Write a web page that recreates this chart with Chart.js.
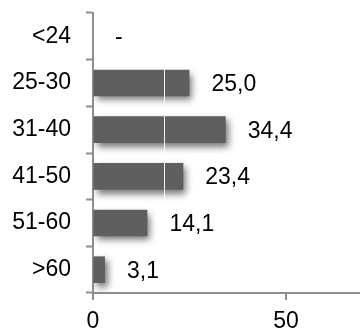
<!DOCTYPE html>
<html>
<head>
<meta charset="utf-8">
<script src="https://cdn.jsdelivr.net/npm/chart.js@4/dist/chart.umd.min.js"></script>
<style>
  html, body { margin: 0; padding: 0; background: #fff; overflow: hidden; }
  #wrap { width: 360px; height: 331px; position: relative; }
</style>
</head>
<body>
<div id="wrap"><canvas id="chart"></canvas></div>
<script>
// Age groups and share per group (%); null = no respondents
const categories = ['<24', '25-30', '31-40', '41-50', '51-60', '>60'];
const shares = [null, 25.0, 34.4, 23.4, 14.1, 3.1];
const xTicks = [0, 50];
const xMax = 69.2;
const guideValue = 18.3;

const FONT = '"Liberation Sans", Arial, Helvetica, sans-serif';
const AXIS = '#8e8e8e';
const TICK_LEN = 7;

function fmt(v) {
  return v === null ? '-' : v.toFixed(1).replace('.', ',');
}

// Soft drop shadow under the bars
const barShadow = {
  id: 'barShadow',
  beforeDatasetsDraw(chart) {
    const ctx = chart.ctx;
    ctx.save();
    ctx.shadowColor = 'rgba(0,0,0,0.55)';
    ctx.shadowBlur = 7;
    ctx.shadowOffsetX = 3;
    ctx.shadowOffsetY = 4;
  },
  afterDatasetsDraw(chart) {
    chart.ctx.restore();
  }
};

// Thin white guide line across the plot, then the value labels
const overlay = {
  id: 'overlay',
  afterDatasetsDraw(chart) {
    const ctx = chart.ctx;
    const x = chart.scales.x;
    const area = chart.chartArea;
    const gx = Math.round(x.getPixelForValue(guideValue)) + 0.5;
    ctx.save();
    ctx.strokeStyle = 'rgba(255,255,255,0.9)';
    ctx.lineWidth = 1;
    ctx.beginPath();
    ctx.moveTo(gx, area.top);
    ctx.lineTo(gx, area.bottom - 1);
    ctx.stroke();

    ctx.fillStyle = '#000';
    ctx.font = '23px ' + FONT;
    ctx.textAlign = 'left';
    ctx.textBaseline = 'middle';
    const meta = chart.getDatasetMeta(0);
    meta.data.forEach((bar, i) => {
      const v = shares[i];
      const end = x.getPixelForValue(v === null ? 0 : v);
      ctx.fillText(fmt(v), end + 22, bar.y + 1.5);
    });
    ctx.restore();
  }
};

// Downward tick marks on the value axis, only at the labelled values
const xTickMarks = {
  id: 'xTickMarks',
  afterDraw(chart) {
    const ctx = chart.ctx;
    const x = chart.scales.x;
    const y0 = chart.chartArea.bottom;
    ctx.save();
    ctx.strokeStyle = AXIS;
    ctx.lineWidth = 2;
    xTicks.forEach(v => {
      const px = Math.round(x.getPixelForValue(v));
      ctx.beginPath();
      ctx.moveTo(px, y0);
      ctx.lineTo(px, y0 + TICK_LEN);
      ctx.stroke();
    });
    ctx.restore();
  }
};

new Chart(document.getElementById('chart'), {
  type: 'bar',
  data: {
    labels: categories,
    datasets: [{
      data: shares,
      backgroundColor: '#5f5f5f',
      borderWidth: 0,
      barPercentage: 0.57,
      categoryPercentage: 1.0
    }]
  },
  options: {
    indexAxis: 'y',
    responsive: true,
    maintainAspectRatio: false,
    animation: false,
    events: [],
    layout: { padding: { top: 13, right: 0, left: 0, bottom: 0 } },
    plugins: {
      legend: { display: false },
      tooltip: { enabled: false },
      title: { display: false }
    },
    scales: {
      x: {
        min: 0,
        max: xMax,
        ticks: {
          color: '#000',
          font: { family: FONT, size: 23 },
          padding: 8 + TICK_LEN,
          maxRotation: 0,
          callback: v => String(v)
        },
        afterBuildTicks(scale) {
          scale.ticks = xTicks.map(v => ({ value: v }));
        },
        afterFit(scale) {
          scale.height = 38;
          scale.paddingLeft = 0;
          scale.paddingRight = 0;
        },
        grid: {
          drawOnChartArea: false,
          drawTicks: false
        },
        border: { display: true, color: AXIS, width: 2 }
      },
      y: {
        ticks: {
          color: '#000',
          font: { family: FONT, size: 23 },
          padding: 15
        },
        afterFit(scale) {
          scale.width = 93;
          scale.paddingTop = 0;
          scale.paddingBottom = 0;
        },
        grid: {
          offset: true,
          drawOnChartArea: false,
          drawTicks: true,
          tickLength: TICK_LEN,
          tickColor: AXIS,
          tickWidth: 2
        },
        border: { display: true, color: AXIS, width: 2 }
      }
    }
  },
  plugins: [barShadow, overlay, xTickMarks]
});
</script>
</body>
</html>
